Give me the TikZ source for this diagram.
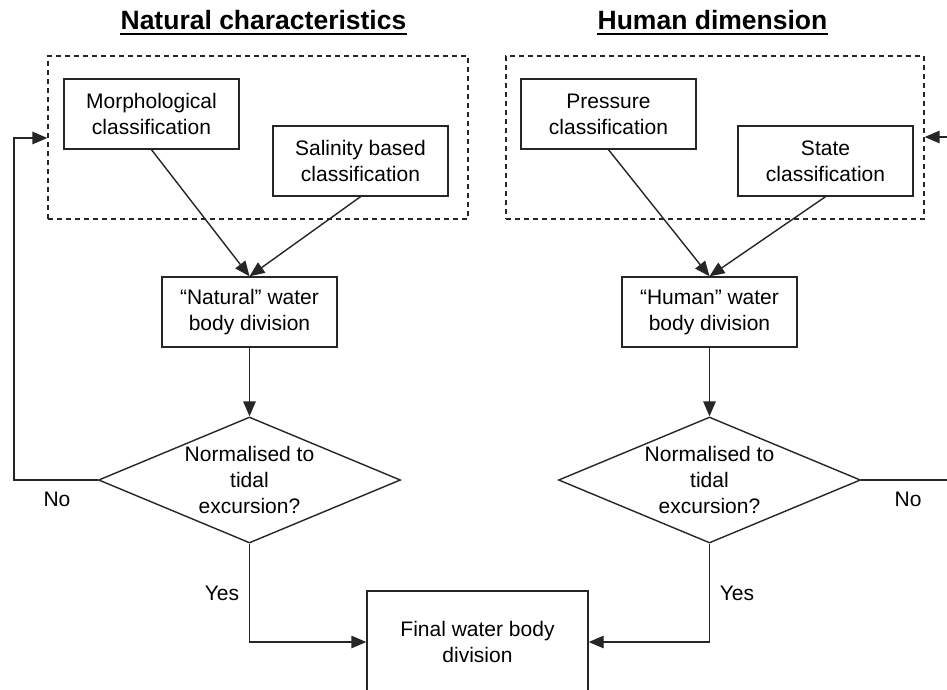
\documentclass[tikz,border=0pt]{standalone}
\usepackage{fontspec}
\setmainfont{Liberation Sans}
\usetikzlibrary{arrows.meta,shapes.geometric,calc}
\definecolor{ln}{HTML}{262626}
\begin{document}
\begin{tikzpicture}[x=1pt,y=-1pt,
  txt/.style={font=\fontsize{21}{26}\selectfont, align=center, inner sep=0pt},
  box/.style={txt, draw=ln, line width=1.4pt, minimum width=175pt, minimum height=70pt},
  dbox/.style={draw=ln, line width=1.3pt, dash pattern=on 5pt off 4pt, minimum width=420pt, minimum height=163pt, inner sep=0pt},
  dec/.style={draw=ln, line width=1.4pt, shape=diamond, minimum width=302pt, minimum height=126pt, inner sep=0pt},
  arr/.style={draw=ln, line width=1.4pt, -{Triangle[length=15pt,width=12.5pt]}},
  ttl/.style={font=\fontsize{26.5}{32}\selectfont\bfseries, inner sep=0pt, anchor=base},
  uline/.style={draw=black, line width=2pt}]
\useasboundingbox (0,0) rectangle (947,689);
\clip (0,0) rectangle (947,689);
\fill[white] (0,0) rectangle (947,689);

% titles
\node[ttl] (t1) at (263.5,29) {Natural characteristics};
\node[ttl] (t2) at (712.5,29) {Human dimension};
\draw[uline] ($(t1.base west)+(0,4.5)$) -- ($(t1.base east)+(0,4.5)$);
\draw[uline] ($(t2.base west)+(0,4.5)$) -- ($(t2.base east)+(0,4.5)$);

% dashed groups
\node[dbox] (ldash) at (258,137.5) {};
\node[dbox, minimum width=418pt] (rdash) at (715,137.5) {};

% boxes
\node[box] (morph) at (151.5,114) {Morphological\\classification};
\node[box] (sal) at (360.5,161) {Salinity based\\classification};
\node[box] (nat) at (249.5,312) {\char"201C Natural\char"201D\ water\\body division};
\node[box] (pres) at (608.5,114) {Pressure\\classification};
\node[box] (state) at (825.5,161) {State\\classification};
\node[box] (hum) at (709.5,312) {\char"201C Human\char"201D\ water\\body division};

% decisions
\node[dec] (d1) at (249.5,480) {};
\node[txt] (d1t) at (d1.center) {Normalised to\\tidal\\excursion?};
\node[dec] (d2) at (709.5,480) {};
\node[txt] (d2t) at (d2.center) {Normalised to\\tidal\\excursion?};

% final
\node[box, minimum width=221pt, minimum height=102pt] (fin) at (477.5,642) {Final water body\\division};

% connectors
\draw[arr] (morph.south) -- (nat.north);
\draw[arr] (sal.south) -- (nat.north);
\draw[arr] (pres.south) -- (hum.north);
\draw[arr] (state.south) -- (hum.north);
\draw[arr] (nat.south) -- (d1.north);
\draw[arr] (hum.south) -- (d2.north);
\draw[arr] (d1.south) |- (fin.west);
\draw[arr] (d2.south) |- (fin.east);

\coordinate (lc) at (14,138);
\coordinate (rc) at (980,137);
\draw[arr] (d1.west) -| (lc) -- (lc -| ldash.west);
\draw[arr] (d2.east) -| (rc) -- (rc -| rdash.east);

% labels
\node[txt] (no1) at (57,499) {No};
\node[txt] (no2) at (908,499) {No};
\node[txt] (yes1) at (222,593) {Yes};
\node[txt] (yes2) at (737,593) {Yes};
\end{tikzpicture}
\end{document}
